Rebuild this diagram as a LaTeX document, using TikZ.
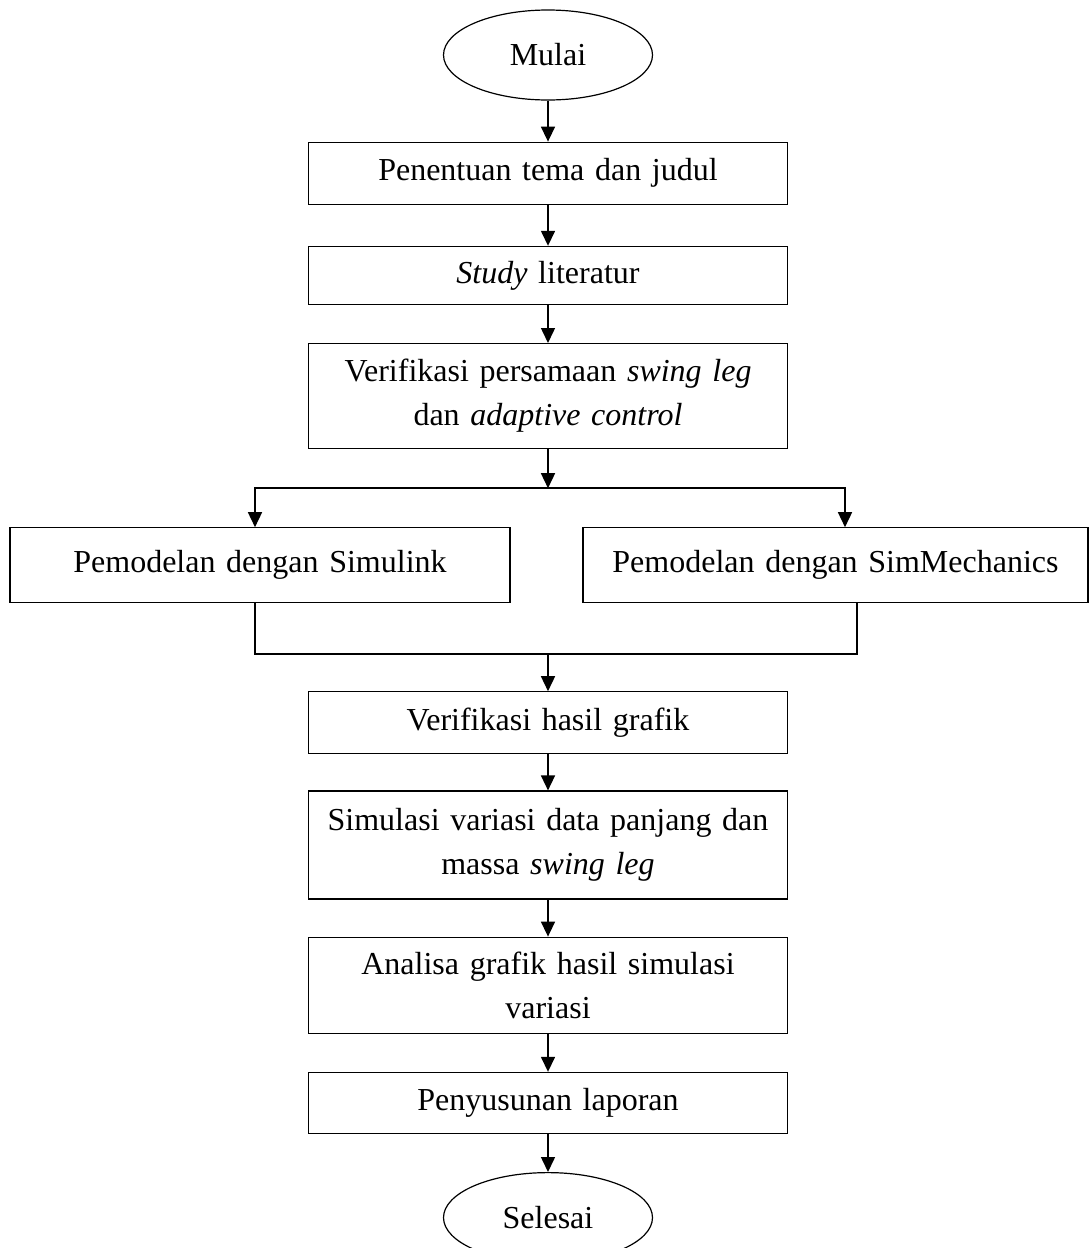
\documentclass[tikz,border=0pt]{standalone}
\usepackage{fontspec}
\setmainfont{Liberation Serif}
\usetikzlibrary{arrows.meta,positioning,shapes.geometric}
\tikzset{main node/.style={rectangle,draw,line width=1.2pt,inner sep=0pt,minimum height=62pt,text width=479pt,align=center,font=\fontsize{32}{44}\selectfont},
end node/.style={ellipse,draw,line width=1.2pt,inner sep=0pt,minimum width=209pt,minimum height=90pt,font=\fontsize{32}{44}\selectfont},}

\begin{document}
\begin{tikzpicture}[x=1pt,y=1pt,>={Triangle[length=15pt,width=14pt]},line width=1.5pt]
    \useasboundingbox (0,0) rectangle (1088,-1248);
    \node[end node] (1) at (548,-55) {Mulai};
    \node[main node] (2) [below = 41pt of 1] {Penentuan tema dan judul};
    \node[main node, minimum height=58pt] (3) [below = 41pt of 2] {\textit{Study} literatur};
    \node[main node, minimum height=105pt] (4) [below = 38pt of 3] {Verifikasi persamaan \textit{swing leg}\\dan \textit{adaptive control}};
    \coordinate[below = 39pt of 4] (a);
    \node[main node, text width=500pt, minimum height=75pt] (5) [below = 78pt of 4, xshift=-288pt] {Pemodelan dengan Simulink};
    \node[main node, text width=505pt, minimum height=75pt] (6) [below = 78pt of 4, xshift=287.5pt] {Pemodelan dengan SimMechanics};
    \coordinate (b) at ([xshift=-5pt]5.north);
    \coordinate (c) at ([xshift=9.5pt]6.north);
    \coordinate (d) at ([xshift=-5pt]5.south);
    \coordinate (e) at ([xshift=21.5pt]6.south);
    \node[main node] (7) [below = 242pt of 4] {Verifikasi hasil grafik};
    \coordinate[above = 37pt of 7] (f);
    \node[main node, minimum height=108pt] (8) [below = 36pt of 7] {Simulasi variasi data panjang dan\\massa \textit{swing leg}};
    \node[main node, minimum height=96pt] (9) [below = 37pt of 8] {Analisa grafik hasil simulasi\\variasi};
    \node[main node, minimum height=61pt] (10) [below = 38pt of 9] {Penyusunan laporan};
    \node[end node] (11) [below = 38pt of 10] {Selesai};

    \path[->]
	(1) edge (2)
	(2) edge (3)
	(3) edge (4)
	(4) edge (a)
	(f) edge (7)
	(7) edge (8)
	(8) edge (9)
	(9) edge (10)
	(10) edge (11);
    \draw[->] (a) -| (b);
    \draw[->] (a) -| (c);
    \draw (d) |- (f) -| (e);
\end{tikzpicture}
\end{document}
